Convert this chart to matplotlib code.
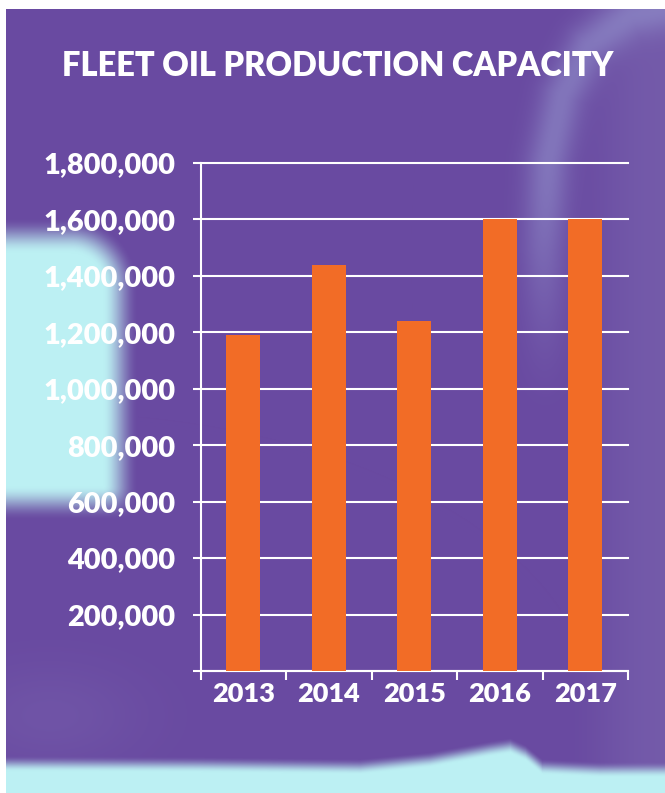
import numpy as np
import matplotlib
matplotlib.use("Agg")
import matplotlib.pyplot as plt
from matplotlib.ticker import FuncFormatter

# ---- data ----
years = ["2013", "2014", "2015", "2016", "2017"]
capacity = [1190000, 1440000, 1240000, 1600000, 1600000]
y_ticks = [0, 200000, 400000, 600000, 800000, 1000000, 1200000, 1400000,
           1600000, 1800000]
title = "FLEET OIL PRODUCTION CAPACITY"

# ---- style ----
W, H = 665, 793
PURPLE = np.array([105, 74, 161]) / 255
PURPLE_LIGHT = np.array([118, 94, 172]) / 255
LAVENDER = np.array([150, 152, 208]) / 255
CYAN = np.array([188, 240, 243]) / 255
ORANGE = "#f26c26"
FONT = "Lato"
WEIGHT = "heavy"


def _smooth(v, a, b):
    t = np.clip((v - a) / (b - a), 0, 1)
    return t * t * (3 - 2 * t)


def _mix(img, col, a):
    a = a[..., None]
    return img * (1 - a) + col * a


def _seg_dist(px, py, pts):
    d = np.full(px.shape, np.inf)
    for (x0, y0), (x1, y1) in zip(pts[:-1], pts[1:]):
        dx, dy = x1 - x0, y1 - y0
        t = np.clip(((px - x0) * dx + (py - y0) * dy) / (dx * dx + dy * dy), 0, 1)
        d = np.minimum(d, np.hypot(px - (x0 + t * dx), py - (y0 + t * dy)))
    return d


def build_background():
    """Blurry photo-like backdrop: purple field, cyan glows, pale arc."""
    yy, xx = np.mgrid[0:H, 0:W].astype(float)
    img = np.ones((H, W, 3)) * PURPLE
    img = _mix(img, PURPLE_LIGHT, _smooth(xx, 560, 655) * 0.8)
    # faint lighter patch lower left
    blob = np.exp(-(((xx - 50) / 90) ** 2 + ((yy - 715) / 50) ** 2))
    img = _mix(img, PURPLE_LIGHT, blob * 0.5)
    # pale arc top right
    arc = [(545, 420), (543, 250), (548, 160), (562, 95), (588, 45),
           (630, 15), (680, 5)]
    d = _seg_dist(xx, yy, arc)
    img = _mix(img, LAVENDER, np.exp(-(d / 22) ** 2) * (1 - _smooth(yy, 150, 430)) * 0.55)
    # cyan block on the left, rounded top-right corner
    cx, cy, r = 70, 285, 50
    corner = np.hypot(np.maximum(xx - cx, 0), np.maximum(cy - yy, 0))
    a = (1 - _smooth(corner, r - 18, r + 18)) * (1 - _smooth(yy, 485, 520))
    img = _mix(img, CYAN, a)
    # cyan band at the bottom
    edge = np.interp(xx[0], [0, 200, 360, 430, 490, 510, 525, 542, 600, 665],
                     [762, 763, 765, 758, 747, 744, 751, 765, 768, 768])
    img = _mix(img, CYAN, _smooth(yy - edge[None, :], -7, 9))
    # white paper margins
    img[:9, :] = 1
    img[:, :6] = 1
    return img


fig = plt.figure(figsize=(W / 100, H / 100), dpi=100)

bg = fig.add_axes([0, 0, 1, 1], zorder=-10)
bg.imshow(build_background(), extent=(0, W, H, 0), aspect="auto",
          interpolation="bilinear")
bg.set_axis_off()

ax = fig.add_axes([200.6 / W, 1 - 671 / H, 427.4 / W, 508 / H])
ax.set_facecolor("none")

x = np.arange(len(years))
ax.bar(x, capacity, width=0.4, color=ORANGE, zorder=3)

ax.set_xlim(-0.5, len(years) - 0.5)
ax.set_ylim(0, 1800000)

# y axis
ax.set_yticks(y_ticks)
ax.yaxis.set_major_formatter(FuncFormatter(lambda v, _: f"{int(v):,}" if v else ""))
ax.tick_params(axis="y", direction="out", length=6, width=1.5, color="white",
               pad=12, labelcolor="white", labelsize=20.8)
ax.grid(axis="y", color="white", linewidth=1.5, zorder=1)
for gl in ax.get_ygridlines():
    gl.set_clip_on(False)

# x axis: ticks at category boundaries, labels centred between them
ax.set_xticks(np.arange(len(years) + 1) - 0.5)
ax.set_xticklabels([])
ax.set_xticks(x, minor=True)
ax.set_xticklabels(years, minor=True)
ax.tick_params(axis="x", which="major", direction="out", length=6.5, width=1.5,
               color="white")
ax.tick_params(axis="x", which="minor", length=0, pad=8, labelcolor="white",
               labelsize=19.5)

for lab in ax.get_yticklabels() + ax.get_xticklabels(minor=True):
    lab.set_fontfamily(FONT)
    lab.set_fontweight(WEIGHT)

for side in ("top", "right"):
    ax.spines[side].set_visible(False)
for side in ("left", "bottom"):
    ax.spines[side].set_color("white")
    ax.spines[side].set_linewidth(1.5)

fig.text(338 / W, 1 - 66 / H, title, ha="center", va="center", color="white",
         fontsize=23.5, fontweight=WEIGHT, family=FONT)

fig.savefig("out.png", dpi=100)
